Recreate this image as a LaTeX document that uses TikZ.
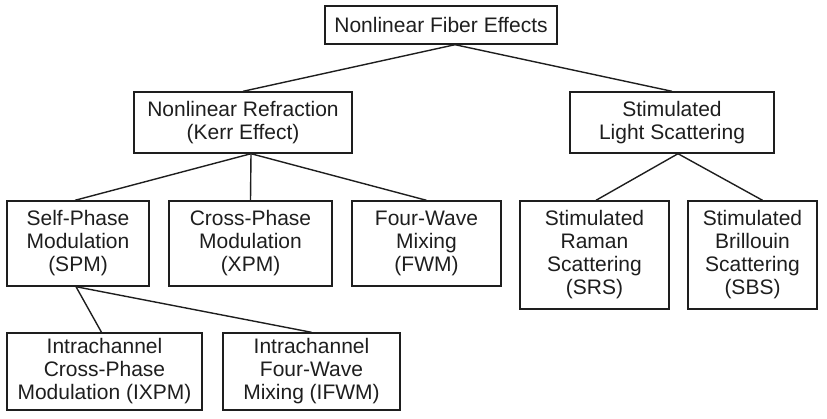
\documentclass[tikz,border=0pt]{standalone}
\usepackage{fontspec}
\setmainfont{Liberation Sans}
\definecolor{ink}{HTML}{1E1E1E}
\begin{document}
\begin{tikzpicture}[x=1pt,y=-1pt,
  box/.style={draw=ink, line width=1.4pt, inner sep=0pt, align=center,
    text=ink, font=\fontsize{21}{23}\selectfont},
  link/.style={draw=ink, line width=1.4pt}]
\useasboundingbox (0,0) rectangle (827,418);

% root
\node[box, minimum width=232, minimum height=38] (top) at (441,25) {Nonlinear Fiber Effects};

% second level
\node[box, minimum width=218, minimum height=61] (nr) at (243,122.5) {Nonlinear Refraction\\(Kerr Effect)};
\node[box, minimum width=204, minimum height=61] (sls) at (672,122.5) {Stimulated\\Light Scattering};

% third level
\node[box, minimum width=142, minimum height=85] (spm) at (78,243.5) {Self-Phase\\Modulation\\(SPM)};
\node[box, minimum width=163, minimum height=85] (xpm) at (250.5,243.5) {Cross-Phase\\Modulation\\(XPM)};
\node[box, minimum width=149, minimum height=85] (fwm) at (426.5,243.5) {Four-Wave\\Mixing\\(FWM)};
\node[box, minimum width=149, minimum height=108] (srs) at (594.5,255) {Stimulated\\Raman\\Scattering\\(SRS)};
\node[box, minimum width=129, minimum height=108] (sbs) at (752.5,255) {Stimulated\\Brillouin\\Scattering\\(SBS)};

% fourth level
\node[box, minimum width=195, minimum height=77] (ixpm) at (104.5,371.5) {Intrachannel\\Cross-Phase\\Modulation (IXPM)};
\node[box, minimum width=177, minimum height=77] (ifwm) at (311.5,371.5) {Intrachannel\\Four-Wave\\Mixing (IFWM)};

% connectors
\draw[link] ([xshift=14pt]top.south) -- (nr.north);
\draw[link] ([xshift=14pt]top.south) -- (sls.north);
\draw[link] ([xshift=8pt]nr.south) -- ([xshift=-3pt]spm.north);
\draw[link] ([xshift=8pt]nr.south) -- (xpm.north);
\draw[link] ([xshift=8pt]nr.south) -- (fwm.north);
\draw[link] ([xshift=6pt]sls.south) -- ([xshift=1.5pt]srs.north);
\draw[link] ([xshift=6pt]sls.south) -- ([xshift=10pt]sbs.north);
\draw[link] ([xshift=-2pt]spm.south) -- ([xshift=-3pt]ixpm.north);
\draw[link] ([xshift=-2pt]spm.south) -- (ifwm.north);
\end{tikzpicture}
\end{document}
